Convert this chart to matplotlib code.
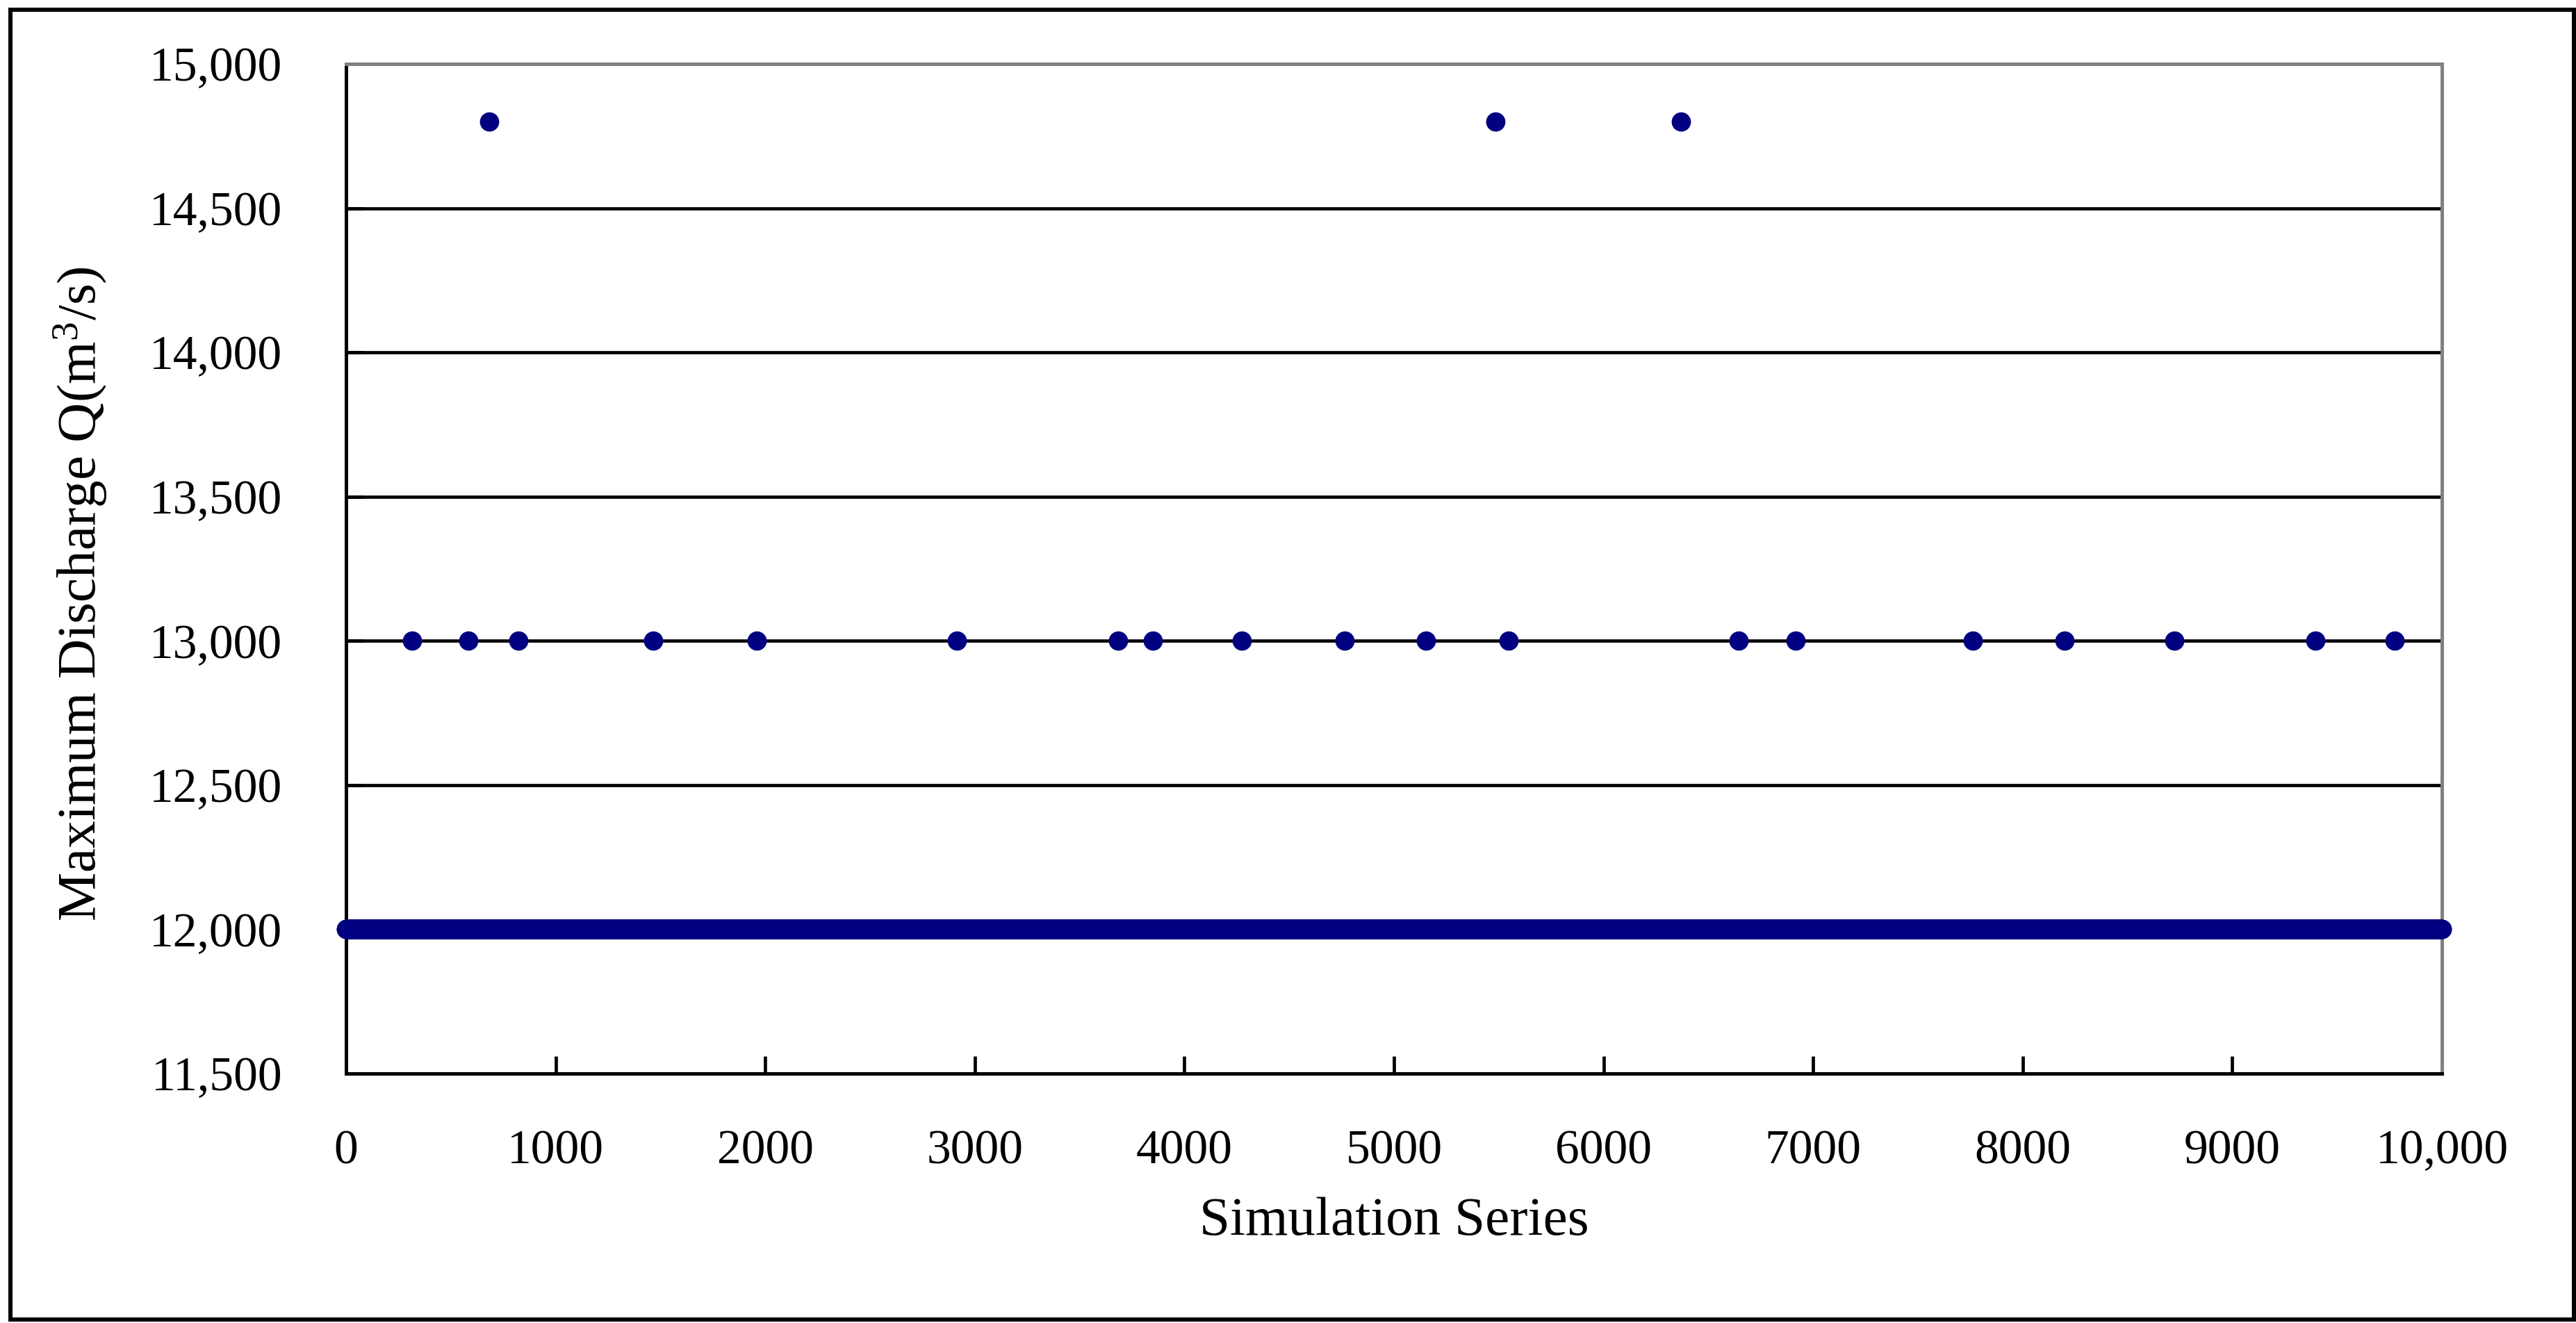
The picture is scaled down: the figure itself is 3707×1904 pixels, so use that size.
import numpy as np
import matplotlib
matplotlib.use("Agg")
import matplotlib.pyplot as plt
from matplotlib.patches import Rectangle

plt.rcParams['font.family'] = ['Liberation Serif', 'DejaVu Serif']
plt.rcParams['mathtext.fontset'] = 'custom'
plt.rcParams['mathtext.rm'] = 'Liberation Serif'
plt.rcParams['mathtext.it'] = 'Liberation Serif:italic'
plt.rcParams['mathtext.bf'] = 'Liberation Serif:bold'

# ---- data ----
n_series = 10000
base_value = 12000
idx_13000 = [315, 582, 821, 1464, 1961, 2913, 3685, 3851, 4273, 4763,
             5151, 5546, 6643, 6915, 7763, 8201, 8722, 9395, 9776]
idx_14800 = [682, 5483, 6371]
val_13000 = 13000
val_14800 = 14800

x_ticks = [0, 1000, 2000, 3000, 4000, 5000, 6000, 7000, 8000, 9000, 10000]
x_tick_labels = ['0', '1000', '2000', '3000', '4000', '5000', '6000', '7000',
                 '8000', '9000', '10,000']
y_ticks = [11500, 12000, 12500, 13000, 13500, 14000, 14500, 15000]
y_tick_labels = ['11,500', '12,000', '12,500', '13,000', '13,500', '14,000',
                 '14,500', '15,000']

# build the series: all simulations at base value, except listed ones
x = np.arange(0, n_series + 1)
y = np.full(x.shape, base_value, dtype=float)
y[idx_13000] = val_13000
y[idx_14800] = val_14800

# ---- figure ----
W, H = 3707, 1904
fig = plt.figure(figsize=(W / 100, H / 100), dpi=100)
ax = fig.add_axes([498 / W, 1 - 1545 / H, (3514 - 498) / W, (1545 - 92) / H])

navy = '#000080'
ax.plot(x, y, linestyle='none', marker='o', markersize=20,
        color=navy, markeredgewidth=0, zorder=3, clip_on=False)

ax.set_xlim(0, 10000)
ax.set_ylim(11500, 15000)

ax.set_xticks(x_ticks)
ax.set_xticklabels(x_tick_labels)
ax.set_yticks(y_ticks)
ax.set_yticklabels(y_tick_labels)

lw = 3.4
for yy in y_ticks[1:-1]:
    ax.axhline(yy, color='black', linewidth=lw, zorder=1)

ax.spines['left'].set_color('black')
ax.spines['bottom'].set_color('black')
ax.spines['top'].set_color('#808080')
ax.spines['right'].set_color('#808080')
for s in ax.spines.values():
    s.set_linewidth(3.6)
    s.set_zorder(2)

ax.tick_params(axis='both', direction='in', length=18, width=lw,
               color='black', labelsize=50)
ax.tick_params(axis='y', pad=66)
ax.tick_params(axis='x', pad=58)
ax.tick_params(top=False, right=False)

ax.set_xlabel('Simulation Series', fontsize=57, labelpad=24)
ax.set_ylabel('Maximum Discharge Q(m$^{3}$/s)', fontsize=57, labelpad=42)
ax.yaxis.label.set_y(0.475)

# outer frame
fig.patches.append(Rectangle((15 / W, 1 - 1899 / H), (3704 - 15) / W, (1899 - 14) / H,
                             transform=fig.transFigure, fill=False,
                             edgecolor='black', linewidth=4.3))

fig.savefig('out.png', dpi=100)
